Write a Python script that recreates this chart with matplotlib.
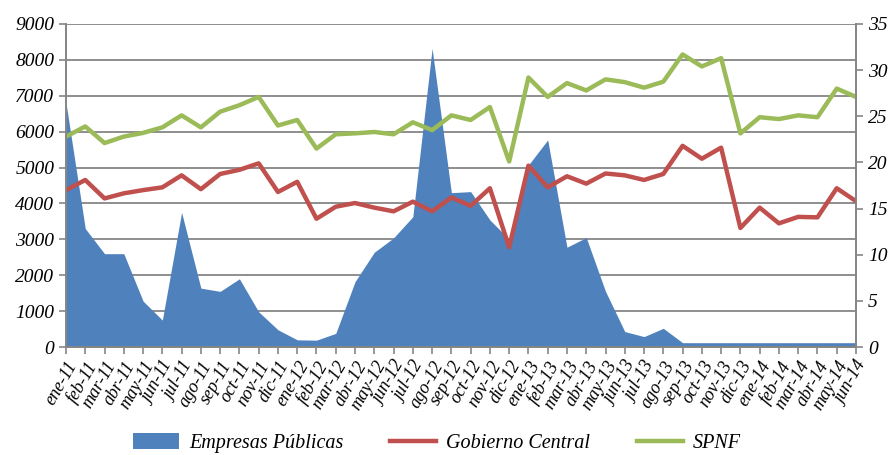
import numpy as np
import matplotlib
matplotlib.use("Agg")
import matplotlib.pyplot as plt

# datos
meses = ["ene", "feb", "mar", "abr", "may", "jun", "jul", "ago", "sep", "oct", "nov", "dic"]
etiquetas = [f"{m}-{a}" for a in ["11", "12", "13"] for m in meses] + \
            [f"{m}-14" for m in meses[:6]]

empresas = [6800, 3300, 2600, 2600, 1280, 750, 3750, 1640, 1550, 1900, 980, 480,
            200, 190, 380, 1820, 2640, 3040, 3630, 8320, 4300, 4330, 3540, 3000,
            5070, 5770, 2780, 3050, 1550, 430, 290, 520, 120, 120, 120, 120,
            120, 120, 120, 120, 120, 120]
gobierno = [17.0, 18.1, 16.1, 16.65, 17.0, 17.3, 18.6, 17.1, 18.75, 19.2, 19.9, 16.8,
            17.9, 13.9, 15.2, 15.6, 15.1, 14.7, 15.75, 14.7, 16.2, 15.3, 17.2, 10.8,
            19.65, 17.3, 18.5, 17.7, 18.8, 18.6, 18.1, 18.75, 21.8, 20.4, 21.6, 12.9,
            15.1, 13.4, 14.1, 14.05, 17.2, 15.8]
spnf = [22.8, 23.9, 22.1, 22.8, 23.2, 23.8, 25.1, 23.8, 25.5, 26.2, 27.1, 24.0,
        24.6, 21.5, 23.05, 23.15, 23.3, 23.05, 24.35, 23.5, 25.1, 24.6, 26.0, 20.1,
        29.2, 27.1, 28.6, 27.8, 29.0, 28.7, 28.1, 28.75, 31.7, 30.4, 31.3, 23.15,
        24.9, 24.7, 25.1, 24.9, 28.0, 27.1]

azul = "#4F81BD"
rojo = "#C0504D"
verde = "#9BBB59"
gris = "#868686"

plt.rcParams['font.family'] = ['Liberation Serif', 'DejaVu Serif']
plt.rcParams['font.style'] = 'italic'

fig = plt.figure(figsize=(8.9, 4.55), dpi=100)
ax = fig.add_axes([66 / 890, 1 - 347 / 455, 790 / 890, 323 / 455])
x = np.arange(len(etiquetas))

ax.fill_between(x, empresas, 0, color=azul, linewidth=0, label="Empresas Públicas")
ax.set_ylim(0, 9000)
ax.set_yticks(np.arange(0, 9001, 1000))
ax.set_xlim(0, len(etiquetas) - 1)
ax.set_xticks(x)
ax.set_xticklabels(etiquetas, rotation=60, ha="right", rotation_mode="anchor", fontsize=13)
ax.tick_params(axis="y", labelsize=14, color=gris, length=5, width=1.2)
ax.tick_params(axis="x", color=gris, length=5, width=1.2, pad=3)
ax.grid(axis="y", color=gris, linewidth=1.3)
ax.set_axisbelow(True)
ax.spines["top"].set_visible(False)
for s in ["left", "right", "bottom"]:
    ax.spines[s].set_color(gris)
    ax.spines[s].set_linewidth(1.3)

ax2 = ax.twinx()
ax2.plot(x, gobierno, color=rojo, linewidth=3.2, label="Gobierno Central")
ax2.plot(x, spnf, color=verde, linewidth=3.2, label="SPNF")
ax2.set_ylim(0, 35)
ax2.set_yticks(np.arange(0, 36, 5))
ax2.tick_params(axis="y", labelsize=14, color=gris, length=5, width=1.2)
ax2.spines["top"].set_visible(False)
for s in ["left", "right", "bottom"]:
    ax2.spines[s].set_color(gris)
    ax2.spines[s].set_linewidth(1.3)

h1, l1 = ax.get_legend_handles_labels()
h2, l2 = ax2.get_legend_handles_labels()
fig.legend(h1 + h2, l1 + l2, loc="center", bbox_to_anchor=(437 / 890, 1 - 443 / 455),
           ncol=3, frameon=False, fontsize=14.5, handlelength=2.3, handleheight=0.8,
           columnspacing=2.3, handletextpad=0.5)

fig.savefig("out.png", dpi=100)
